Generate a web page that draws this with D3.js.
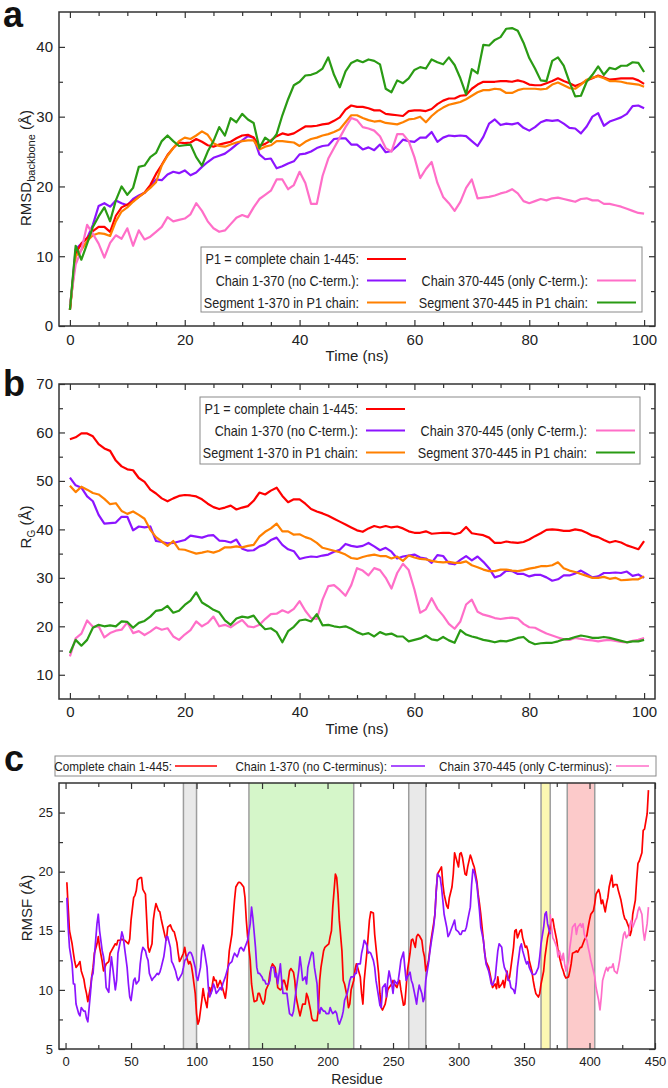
<!DOCTYPE html>
<html>
<head>
<meta charset="utf-8">
<script src="https://cdn.jsdelivr.net/npm/d3@7"></script>
<style>
  html, body { margin: 0; padding: 0; background: #fff; }
  svg { display: block; font-family: "Liberation Sans", Arial, sans-serif; }
</style>
</head>
<body>
<div id="chart"></div>
<script>
const width = 668;
const height = 1088;

// shared time grid (ns) for panels a and b
const timeNs = d3.range(0, 101);

// panel a: RMSD backbone (Å)
const rmsdP1 = [2.3,10.4,11.8,12.6,13.6,14.2,14.2,13.5,15.8,17.0,
  17.4,17.9,18.5,19.1,20.2,21.8,23.1,24.5,25.5,26.3,
  26.2,26.3,26.8,26.4,25.9,25.7,26.0,26.2,26.4,26.9,
  27.3,27.4,27.0,25.8,26.1,26.6,27.2,27.6,27.4,27.6,
  28.1,28.6,28.6,28.7,28.9,29.0,29.4,29.9,31.0,31.6,
  31.4,31.4,31.2,30.9,30.9,30.4,30.3,30.2,30.1,30.8,
  30.9,30.9,30.8,31.1,31.8,32.3,32.6,32.6,33.0,33.1,
  34.0,34.6,35.0,35.0,35.0,35.1,35.1,35.0,35.2,35.0,
  34.6,34.5,34.5,34.8,35.1,35.5,35.1,34.8,34.4,34.7,
  35.2,35.5,35.9,35.6,35.3,35.4,35.5,35.5,35.5,35.2,
  34.7];
const rmsdNoC = [2.3,11.0,11.8,12.6,14.5,17.2,17.6,17.1,18.0,17.6,
  17.3,18.2,18.7,19.1,20.0,21.0,20.9,21.7,22.1,21.9,
  22.3,21.6,22.0,22.8,23.5,24.1,24.4,24.7,25.3,26.0,
  26.6,27.2,27.0,24.6,23.9,24.0,22.6,22.9,23.3,23.6,
  24.6,24.7,25.0,25.5,25.8,25.9,26.8,26.9,26.9,26.0,
  26.0,25.3,25.6,25.2,26.0,24.9,25.1,25.8,26.7,26.5,
  26.4,27.0,27.0,27.8,26.4,27.0,27.3,27.2,27.3,27.2,
  26.5,25.8,27.1,29.0,29.6,28.8,29.0,28.9,29.1,28.4,
  28.0,28.5,29.2,29.5,29.4,29.5,29.0,28.4,28.3,27.6,
  28.6,30.0,30.5,28.7,29.3,29.6,29.9,30.4,31.5,31.6,
  31.2];
const rmsdOnlyC = [3.0,8.8,10.9,14.5,13.2,11.8,9.8,11.9,13.0,12.5,
  14.0,11.5,13.7,12.4,12.8,13.5,14.2,15.6,15.0,15.2,
  15.4,16.0,17.6,16.5,15.0,14.0,13.5,13.7,14.6,15.5,
  15.9,15.6,17.0,18.2,18.8,19.4,21.0,21.0,19.6,20.2,
  22.1,20.5,17.5,17.5,21.5,24.0,25.5,27.0,28.5,29.8,
  29.5,28.5,28.3,28.0,27.2,25.5,25.0,27.5,27.5,26.5,
  24.2,21.2,22.5,23.5,20.5,18.5,17.6,16.5,17.8,19.8,
  21.0,18.3,18.4,18.5,18.7,19.0,19.2,19.6,19.0,17.9,
  17.6,17.9,18.2,18.0,18.3,18.4,18.2,18.0,17.8,18.2,
  18.3,18.0,18.0,17.5,17.5,17.3,17.1,16.8,16.5,16.2,
  16.1];
const rmsdSeg1 = [2.3,10.0,10.9,12.2,13.0,13.3,13.2,12.9,15.0,16.4,
  17.0,17.8,18.5,19.1,19.8,20.6,23.0,24.4,25.5,26.5,
  27.0,26.8,27.3,27.9,27.4,26.2,25.8,25.7,26.0,26.3,
  26.5,26.6,26.6,25.3,25.7,25.9,26.5,26.5,26.4,26.3,
  25.8,26.4,26.8,27.0,27.3,27.5,27.8,28.2,29.2,30.2,
  30.2,29.8,29.5,29.3,29.4,29.1,29.0,28.9,29.2,29.6,
  29.7,30.0,29.2,30.1,30.8,31.3,31.7,31.9,32.1,32.5,
  33.0,33.5,33.8,33.8,34.0,33.9,33.4,33.4,33.8,34.0,
  34.0,34.0,33.9,34.0,34.6,34.9,34.5,34.1,34.0,34.6,
  35.3,35.6,35.8,35.5,35.1,35.1,35.0,34.8,34.7,34.6,
  34.3];
const rmsdSeg2 = [2.3,11.5,9.5,11.8,14.2,15.7,17.0,15.0,18.0,20.0,
  18.8,19.8,22.8,23.0,24.2,24.8,26.5,27.3,26.5,25.8,
  25.9,26.0,24.2,23.0,25.0,26.5,28.5,27.3,29.8,29.2,
  30.4,29.6,29.1,25.5,27.0,26.4,27.5,30.2,32.5,34.5,
  35.0,35.9,36.0,36.3,36.9,38.5,36.0,34.2,36.5,37.7,
  38.1,37.8,38.2,38.0,37.5,34.0,33.5,35.2,34.8,35.5,
  36.7,37.1,36.9,38.2,37.8,37.5,38.5,37.4,35.5,33.2,
  36.8,36.2,40.3,40.2,41.0,41.4,42.6,42.7,42.3,40.6,
  38.4,36.9,35.2,35.1,38.0,38.5,37.3,35.0,32.9,33.0,
  35.0,36.0,37.2,36.0,37.0,36.8,37.3,37.3,37.8,37.7,
  36.4];

// panel b: radius of gyration (Å)
const rgP1 = [58.6,59.0,59.8,59.8,59.2,57.6,56.7,56.2,54.2,53.0,
  52.4,52.2,50.6,49.8,48.2,47.4,46.4,45.8,46.4,46.9,
  47.1,47.0,46.8,46.2,45.3,44.6,44.2,44.5,44.9,44.1,
  44.5,44.8,45.9,47.6,47.2,48.0,48.6,46.9,45.6,46.2,
  46.2,45.3,44.2,43.7,43.3,42.8,42.2,41.6,41.0,40.4,
  39.8,39.5,40.2,40.7,40.4,40.7,40.4,40.6,40.2,39.6,
  39.3,39.3,39.6,39.1,39.2,39.3,39.3,39.0,39.3,40.5,
  39.2,39.0,38.8,38.3,37.2,37.2,37.5,37.3,37.2,37.4,
  37.9,38.6,39.2,39.9,40.0,39.9,39.7,39.7,40.0,39.8,
  39.3,38.7,38.4,37.8,37.3,37.6,37.3,36.7,36.3,35.9,
  37.6];
const rgNoC = [50.7,49.1,48.6,46.8,45.8,43.0,41.2,41.3,41.4,42.6,
  42.6,39.8,40.6,40.4,40.6,37.6,37.4,37.1,37.2,37.5,
  37.8,38.7,38.5,38.3,38.7,38.8,37.7,37.6,37.3,37.9,
  36.0,35.6,35.7,36.5,36.9,37.8,38.3,36.8,35.9,35.5,
  33.9,34.2,34.4,34.3,34.6,34.8,35.4,35.8,37.0,36.6,
  36.4,36.6,37.2,36.5,35.7,36.2,35.4,34.0,34.4,34.6,
  34.8,34.2,34.0,33.1,34.7,34.5,33.0,32.8,33.7,34.5,
  33.6,34.4,33.3,32.0,30.1,30.5,31.5,31.4,30.8,30.8,
  30.3,30.6,30.6,30.1,29.4,29.7,30.5,30.5,30.9,31.5,
  30.8,30.1,30.3,31.0,31.0,31.1,31.0,31.3,30.4,30.7,
  30.0];
const rgOnlyC = [13.8,17.5,18.5,21.2,19.9,20.0,17.7,18.6,19.1,19.3,
  20.8,18.6,19.0,18.2,18.9,19.8,19.3,19.6,17.9,17.2,
  18.3,19.2,21.0,20.0,20.7,22.0,20.0,20.3,19.8,20.6,
  21.3,20.0,19.8,20.3,21.5,22.5,22.6,23.3,22.8,23.6,
  25.2,23.2,21.7,21.5,25.5,28.3,28.5,27.5,26.3,28.5,
  32.0,31.5,30.5,32.0,31.6,30.0,27.8,31.0,32.9,31.6,
  27.6,22.8,23.5,25.8,23.6,22.2,20.5,19.5,21.0,24.5,
  25.5,23.0,22.4,22.1,21.7,21.5,21.7,21.8,21.6,20.5,
  19.8,19.7,19.1,18.5,18.1,17.7,17.3,17.2,17.6,17.4,
  17.2,17.1,16.9,17.1,17.2,17.0,16.8,16.7,17.0,17.2,
  17.6];
const rgSeg1 = [49.0,47.7,48.8,48.2,47.5,47.2,46.3,45.2,45.4,43.8,
  43.2,43.7,43.0,42.2,39.9,38.4,37.5,36.6,37.6,35.9,
  35.8,35.4,35.0,35.2,35.5,35.2,35.6,36.3,36.3,36.5,
  36.3,36.6,36.8,38.5,39.5,40.2,41.2,39.6,39.6,38.9,
  39.0,38.4,38.0,37.2,36.2,35.9,35.6,35.3,34.8,34.1,
  33.9,34.3,34.6,34.8,34.5,34.5,34.0,34.4,33.5,34.6,
  34.2,33.9,33.8,33.5,33.3,33.2,33.3,33.1,33.1,33.4,
  32.6,32.2,31.7,31.4,31.4,31.7,31.7,31.5,31.4,31.6,
  31.9,32.1,32.4,32.4,32.6,33.2,32.0,31.5,31.2,30.8,
  30.4,30.0,30.0,30.2,29.8,30.0,29.5,29.6,29.7,29.7,
  30.3];
const rgSeg2 = [14.5,17.2,16.0,17.2,19.7,20.3,20.0,20.2,20.0,21.0,
  20.9,19.7,20.7,21.1,22.0,23.2,23.4,24.2,22.8,23.2,
  24.4,25.3,27.0,24.9,24.2,23.4,22.9,21.2,20.3,21.6,
  22.0,21.8,22.2,20.6,19.4,19.6,18.8,16.7,19.0,19.9,
  21.2,21.4,21.0,22.5,20.2,20.3,20.0,19.8,20.0,19.5,
  18.8,18.3,18.6,17.9,18.8,18.3,18.5,17.9,17.9,16.9,
  17.2,17.5,18.1,17.3,17.1,17.8,17.1,16.6,19.2,18.3,
  17.9,17.6,17.2,17.0,16.7,17.0,16.9,17.2,17.6,17.8,
  16.8,16.3,16.5,16.6,16.6,16.9,17.3,17.4,17.8,18.1,
  17.9,17.6,17.6,17.8,17.6,17.3,17.0,16.7,16.9,16.9,
  17.2];

// panel c: RMSF (Å) per residue, [residue, value]
const rmsfComplete = [[1,19.1],[2,17],[3,15],[5,13.9],[6,13.1],[7,12.4],[8,11.9],[10,12.2],[11,12.4],[12,11.6],[14,10.9],[15,10.2],[16,9.7],[17,9],[19,10.2],[20,11.1],[21,11.9],[22,13.1],[24,13.9],[25,14.5],[26,13.6],[28,12.4],[29,11.6],[30,11.9],[31,12.2],[33,12.4],[34,13.1],[35,13.3],[36,13.5],[38,13.9],[39,13.8],[40,14.2],[42,14.2],[43,14.3],[44,14.2],[45,14.2],[48,13.9],[49,14.3],[50,15.9],[52,17.8],[53,18],[54,18.4],[55,19.3],[57,19.5],[58,19.5],[59,18.5],[61,18.1],[62,15.9],[63,13.6],[64,13.2],[66,13.9],[67,15.9],[68,16.7],[69,17.3],[71,16.7],[72,16.6],[73,16],[75,15],[76,14.5],[77,14.2],[78,15.3],[80,15.5],[81,15.2],[82,15],[83,14.9],[85,14],[86,13.1],[87,12.4],[88,12.6],[90,13.1],[91,13.6],[92,12.9],[94,12.2],[95,12.4],[96,12.1],[97,11.4],[99,9.7],[100,8],[101,7.1],[102,7.4],[104,9.1],[105,10.1],[106,9.4],[108,8.5],[109,9.7],[110,10.2],[111,9.7],[113,11.1],[114,10.8],[115,10.8],[116,10.2],[118,10.8],[119,10.5],[120,10.1],[122,9.3],[123,10.2],[124,11.9],[125,13.3],[127,14.7],[128,16.2],[129,17.6],[130,18.7],[132,19.1],[133,19.1],[134,19],[136,18.7],[137,17.8],[138,15.9],[139,14.5],[141,12.5],[142,10.5],[143,9.7],[144,9],[146,9.1],[147,9.7],[148,9.7],[150,9],[151,8.8],[152,9.1],[153,10],[155,10.5],[156,11.4],[157,11.9],[158,12.2],[160,11.9],[161,11.1],[162,10.2],[164,10],[165,10.1],[166,10.8],[167,10.8],[169,10],[170,10.8],[171,11.6],[172,11.8],[174,11.5],[175,10.8],[176,9.4],[178,8.3],[179,7.8],[180,8.3],[181,8.8],[183,8.8],[184,9.7],[185,9.4],[187,8.3],[188,7.6],[189,7.4],[190,7.4],[192,7.4],[193,8.3],[194,10.8],[195,11.9],[197,13.3],[198,13.6],[199,13.7],[201,13.9],[202,14.5],[203,15],[204,17],[206,19.8],[207,19.5],[208,18.1],[209,15.9],[211,13.3],[212,10.8],[213,10.5],[215,9.4],[216,8.5],[217,8.8],[218,10],[220,10.8],[221,11.7],[222,12.2],[223,11.9],[225,11.1],[226,9.7],[227,8.8],[228,10.8],[230,13.1],[231,14.5],[232,15.9],[233,16.6],[235,16.5],[236,14.7],[237,13.6],[239,11.4],[240,9.7],[241,8.5],[242,8.3],[244,8.8],[245,9.4],[246,10],[247,10.2],[249,10.5],[250,10.8],[251,10.5],[253,10.2],[254,10.6],[255,10.8],[256,10],[258,8.7],[259,8.8],[260,10.2],[261,11.6],[263,13.1],[264,14.2],[265,14.3],[267,13.6],[268,14.5],[269,14.7],[270,14.6],[272,14.2],[273,13.3],[274,12.8],[275,11.6],[277,12.4],[278,13.3],[279,14.2],[281,15.6],[282,16.4],[283,18.4],[284,19.8],[286,20.2],[287,20.4],[288,19],[289,18.1],[291,17.1],[292,16.9],[293,17.8],[295,18.7],[296,19.8],[297,21.6],[298,21.2],[300,20.4],[301,21.5],[302,21.6],[303,21.2],[305,19.8],[306,19.7],[307,20.4],[309,21.4],[310,21.1],[311,20.7],[312,20.4],[314,19.2],[315,18.1],[316,17.3],[317,16.4],[319,14.2],[320,13.1],[321,12.4],[323,11.9],[324,11.4],[325,10.8],[326,10.2],[328,10.5],[329,10.1],[330,11.1],[331,10.2],[333,10.5],[334,10.8],[335,10.2],[337,11.6],[338,10.8],[339,11.1],[340,11.9],[342,13.6],[343,15],[344,15.1],[345,14.4],[347,15],[348,15.1],[349,14.4],[351,13.6],[352,13.7],[353,13.3],[354,12.5],[356,11.6],[357,10.8],[358,10.2],[359,9.7],[361,9.4],[362,9.7],[363,10.5],[365,11.6],[366,12.8],[367,13.6],[368,14.4],[370,15.3],[371,15.9],[372,16],[373,15.3],[375,14.2],[376,13.3],[377,12.8],[379,11.9],[380,11.6],[381,11.2],[382,11],[384,11.1],[385,11.6],[386,12.2],[387,13.1],[389,13.2],[390,13.3],[391,13.2],[393,13.6],[394,13.6],[395,13.9],[396,14.2],[398,14.6],[399,15.3],[400,15.9],[401,16.4],[403,16.7],[404,17.3],[405,18.1],[407,18.5],[408,18.1],[409,17.3],[410,17.6],[412,16.6],[413,17.3],[414,17.8],[415,18.7],[417,19.7],[418,18.7],[419,18.9],[421,18.9],[422,18.4],[423,18],[424,17.6],[426,16.4],[427,16],[428,15.9],[430,15.3],[431,14.6],[432,15],[433,16.4],[435,17.6],[436,19.3],[437,20.7],[438,20.9],[440,21.6],[441,23.5],[442,23.6],[444,24.9],[445,26.9]];
const rmsfNoC = [[1,17.8],[2,15.3],[3,13.6],[5,12.2],[6,10.5],[7,10.5],[8,8.8],[10,8],[11,7.8],[12,8.5],[14,8.2],[15,8.2],[16,7.6],[17,7.3],[19,9.7],[20,11.1],[21,11.4],[22,12.8],[24,15.6],[25,16.4],[26,15],[28,13.3],[29,12.8],[30,11.9],[31,10.2],[33,9.8],[34,11.6],[35,12.8],[36,11.9],[38,10],[39,10.8],[40,13.1],[42,14.2],[43,14.9],[44,14.5],[45,13.6],[47,11.9],[48,10.5],[49,9.4],[50,9.1],[52,10.8],[53,11],[54,10.5],[56,10.8],[57,12.2],[58,13.1],[59,13.6],[61,13.3],[62,12.8],[63,12.5],[64,11.4],[66,10.8],[67,11],[68,11.1],[70,11.4],[71,11.3],[72,11.5],[73,11.9],[75,12.8],[76,13.6],[77,14.5],[78,14.5],[80,13.6],[81,12.4],[82,12.2],[84,11.6],[85,11.1],[86,10.8],[87,11],[89,11.4],[90,11.9],[91,12.5],[92,12.6],[94,13.1],[95,13.2],[96,13.1],[97,12.8],[99,11.9],[100,11.1],[101,10.8],[103,11.9],[104,13.3],[105,13.8],[106,13.3],[108,11.9],[109,10.2],[110,9.4],[112,10],[113,10.5],[114,10.2],[115,9.7],[117,10],[118,10.2],[119,10],[120,10.5],[122,11.1],[123,11.5],[124,11.9],[125,12.2],[127,12.4],[128,12.8],[129,13.1],[131,12.8],[132,13.1],[133,13.5],[134,13.6],[136,13.3],[137,13.6],[138,13.9],[139,14.2],[141,15.6],[142,17],[143,16.1],[145,13.6],[146,11.9],[147,11.4],[148,11.4],[150,11.1],[151,10.8],[152,10.8],[153,10.5],[155,10.5],[156,10.8],[157,11.9],[159,11.9],[160,11.1],[161,11.4],[162,10.5],[164,12.2],[165,10.8],[166,9.7],[167,9.7],[169,9.7],[170,8.8],[171,8],[173,7.8],[174,8.2],[175,9.1],[176,10],[178,11.6],[179,12.8],[180,11.9],[181,10.8],[183,11.1],[184,10.5],[185,11.9],[187,12.8],[188,13.2],[189,13.1],[190,11.9],[192,10.5],[193,8.5],[194,8],[195,8.5],[197,8.2],[198,8.2],[199,8],[201,8],[202,8.5],[203,8.2],[204,8],[206,8.2],[207,8],[208,7.4],[209,7.1],[211,7.7],[212,8.2],[213,9.1],[215,9.7],[216,10.2],[217,10.8],[218,11.1],[220,11.1],[221,11.4],[222,11.4],[223,12.2],[225,12.2],[226,13.1],[227,13.6],[228,14.2],[230,13.8],[231,13.1],[232,13.2],[233,13.1],[235,12.5],[236,11.9],[237,10.8],[239,9.4],[240,8.7],[241,8.5],[242,10.2],[244,10.5],[245,9.4],[246,10.8],[247,11.6],[249,10.5],[250,9.7],[251,10.8],[253,10.5],[254,10.8],[255,11.6],[256,12.5],[258,13.2],[259,11.9],[260,10.8],[261,11.1],[263,11.5],[264,10.8],[265,10.5],[267,9.4],[268,8.8],[269,9.7],[270,10.4],[272,9.7],[273,9],[274,9.3],[275,10.8],[277,12.2],[278,13.1],[279,13.9],[281,15.3],[282,16.4],[283,18.4],[284,19.8],[286,19.5],[287,18.7],[288,17.6],[289,16.4],[291,15.3],[292,14.5],[293,14.7],[295,15.3],[296,15.6],[297,15.9],[298,15.1],[300,14.9],[301,14.7],[302,14.7],[303,15],[305,15],[306,15.3],[307,15.9],[309,17],[310,18.9],[311,20.2],[312,20],[314,18.9],[315,17.8],[316,16.7],[317,15.3],[319,14.2],[320,13.1],[321,12.2],[323,11.6],[324,11.1],[325,10.5],[326,10.4],[328,11],[329,12.2],[330,13.3],[331,13.9],[333,13.6],[334,12.5],[335,11.9],[337,11.4],[338,10.8],[339,10.8],[340,10.2],[342,10],[343,9.7],[344,10.5],[345,11.9],[347,13.6],[348,13.9],[349,13.3],[351,12.5],[352,12.2],[353,12.4],[354,11.9],[356,11.4],[357,11.3],[358,11.3],[359,11.4],[361,11.9],[362,12.8],[363,13.9],[365,15.3],[366,16.4],[367,16.6],[368,15.6],[370,14.7]];
const rmsfOnlyC = [[370,16.4],[371,15.3],[372,14.4],[373,14.2],[375,13.6],[376,12.8],[377,13.3],[379,12.5],[380,13.1],[381,12.2],[382,11.6],[384,12.5],[385,13.6],[386,14.4],[387,15.3],[389,15.6],[390,14.7],[391,15.3],[393,15.6],[394,15.3],[395,15.6],[396,14.7],[398,14.2],[399,13.6],[400,13.1],[401,12.5],[403,11.6],[404,11.1],[405,10.2],[407,9.1],[408,8.3],[409,9.4],[410,10.8],[412,11.6],[413,11.9],[414,11.6],[415,11.9],[417,11.9],[418,12.2],[419,11.6],[421,11.4],[422,11.9],[423,12.5],[424,13.3],[426,14.7],[427,14.9],[428,14.4],[430,14.7],[431,15.6],[432,15.9],[433,15.3],[435,15.9],[436,16.1],[437,16.7],[438,17],[440,16.4],[441,15],[442,14.2],[444,15.6],[445,17]];

// highlighted residue ranges in panel c
const bandStart = [90, 140, 262, 363, 383];
const bandEnd = [100, 220, 275, 370, 404];

// legend labels
const labelsAB = ["P1 = complete chain 1-445:", "Chain 1-370 (no C-term.):", "Chain 370-445 (only C-term.):",
  "Segment 1-370 in P1 chain:", "Segment 370-445 in P1 chain:"];
const labelsC = ["Complete chain 1-445:", "Chain 1-370 (no C-terminus):", "Chain 370-445 (only C-terminus):"];

const red = "#ff0000", purple = "#8c14ff", pink = "#ff6ec8", orange = "#ff8000", green = "#2a9b14";
const bandFill = ["#e9e9e9", "#d5f6c9", "#e9e9e9", "#fcf8b2", "#fccaca"];

const svg = d3.select("#chart").append("svg")
    .attr("width", width)
    .attr("height", height)
    .attr("viewBox", `0,0,${width},${height}`);

const left = 59, right = 655;

function styleAxis(g, fs) {
    g.select(".domain").remove();
    g.selectAll("line").attr("stroke", "#333").attr("stroke-width", 1.2);
    g.selectAll("text").attr("font-size", fs).attr("fill", "#222")
        .attr("font-family", "'Liberation Sans', Arial, sans-serif");
}

function axes(g, x, y, xMajor, xMinor, yMajor, yMinor, fs, xPad) {
    const [yb, yt] = y.range();
    g.append("g").attr("transform", `translate(0,${yb})`)
        .call(d3.axisBottom(x).tickValues(xMajor).tickSize(-6).tickPadding(xPad).tickFormat(d3.format("d")))
        .call(s => styleAxis(s, fs));
    g.append("g").attr("transform", `translate(0,${yb})`)
        .call(d3.axisBottom(x).tickValues(xMinor).tickSize(-4).tickFormat(""))
        .call(s => styleAxis(s, fs));
    g.append("g").attr("transform", `translate(0,${yt})`)
        .call(d3.axisTop(x).tickValues(xMajor).tickSize(-6).tickFormat(""))
        .call(s => styleAxis(s, fs));
    g.append("g").attr("transform", `translate(0,${yt})`)
        .call(d3.axisTop(x).tickValues(xMinor).tickSize(-4).tickFormat(""))
        .call(s => styleAxis(s, fs));
    g.append("g").attr("transform", `translate(${left},0)`)
        .call(d3.axisLeft(y).tickValues(yMajor).tickSize(-6).tickPadding(6).tickFormat(d3.format("d")))
        .call(s => styleAxis(s, fs));
    g.append("g").attr("transform", `translate(${left},0)`)
        .call(d3.axisLeft(y).tickValues(yMinor).tickSize(-4).tickFormat(""))
        .call(s => styleAxis(s, fs));
    g.append("g").attr("transform", `translate(${right},0)`)
        .call(d3.axisRight(y).tickValues(yMajor).tickSize(-6).tickFormat(""))
        .call(s => styleAxis(s, fs));
    g.append("g").attr("transform", `translate(${right},0)`)
        .call(d3.axisRight(y).tickValues(yMinor).tickSize(-4).tickFormat(""))
        .call(s => styleAxis(s, fs));
}

function frame(g, y) {
    const [yb, yt] = y.range();
    g.append("rect")
        .attr("x", left).attr("y", yt)
        .attr("width", right - left).attr("height", yb - yt)
        .attr("fill", "none").attr("stroke", "#333").attr("stroke-width", 1.5);
}

function legendAB(g, bx, by, bw, bh, colors) {
    g.append("rect").attr("x", bx).attr("y", by).attr("width", bw).attr("height", bh)
        .attr("fill", "#fff").attr("stroke", "#8a8a8a").attr("stroke-width", 1);
    // col, row for each entry
    const pos = [[0, 0], [0, 1], [1, 1], [0, 2], [1, 2]];
    const rowY = [12, 33.5, 55.5];
    const textEnd = [158, 387];
    const lineX = [[166, 205], [396, 435]];
    labelsAB.forEach((lab, i) => {
        const [c, r] = pos[i];
        g.append("text")
            .attr("transform", `translate(${bx + textEnd[c]},${by + rowY[r] + 5}) scale(0.9,1)`)
            .attr("text-anchor", "end").attr("font-size", 14).attr("fill", "#222")
            .text(lab);
        g.append("line")
            .attr("x1", bx + lineX[c][0]).attr("x2", bx + lineX[c][1])
            .attr("y1", by + rowY[r]).attr("y2", by + rowY[r])
            .attr("stroke", colors[i]).attr("stroke-width", 2);
    });
}

const colorsAB = [red, purple, pink, orange, green];

function timePanel(cfg) {
    const g = svg.append("g");
    const x = d3.scaleLinear().domain([-1.9, 101.9]).range([left, right]);
    const y = d3.scaleLinear().domain(cfg.yDomain).range(cfg.yRange);
    axes(g, x, y, [0, 20, 40, 60, 80, 100], d3.range(0, 101, 5).filter(v => v % 20),
        cfg.yMajor, cfg.yMinor, 15, cfg.xPad);

    const line = d3.line().x((d, i) => x(timeNs[i])).y(d => y(d));
    cfg.series.forEach(s => {
        g.append("path").datum(s.values)
            .attr("fill", "none").attr("stroke", s.color)
            .attr("stroke-width", 2.2).attr("stroke-linejoin", "round")
            .attr("d", line);
    });
    frame(g, y);
    legendAB(g, cfg.legend[0], cfg.legend[1], cfg.legend[2], cfg.legend[3], colorsAB);

    g.append("text").attr("x", (left + right) / 2).attr("y", cfg.titleY)
        .attr("text-anchor", "middle").attr("font-size", 15).attr("fill", "#222")
        .text("Time (ns)");
    return g;
}

// panel a
const ga = timePanel({
    yDomain: [0, 45], yRange: [326, 12],
    yMajor: [0, 10, 20, 30, 40], yMinor: [5, 15, 25, 35],
    xPad: 8, titleY: 361,
    series: [
        { values: rmsdNoC, color: purple },
        { values: rmsdP1, color: red },
        { values: rmsdSeg1, color: orange },
        { values: rmsdOnlyC, color: pink },
        { values: rmsdSeg2, color: green }
    ],
    legend: [201, 247, 441, 65]
});
ga.append("text").attr("transform", "translate(31,168) rotate(-90)")
    .attr("text-anchor", "middle").attr("font-size", 15).attr("fill", "#222")
    .call(t => {
        t.append("tspan").text("RMSD");
        t.append("tspan").attr("dy", 4).attr("font-size", 11).text("backbone");
        t.append("tspan").attr("dy", -4).text(" (Å)");
    });

// panel b
const gb = timePanel({
    yDomain: [5, 70], yRange: [699, 384],
    yMajor: [10, 20, 30, 40, 50, 60, 70], yMinor: [15, 25, 35, 45, 55, 65],
    xPad: 7, titleY: 734,
    series: [
        { values: rgP1, color: red },
        { values: rgNoC, color: purple },
        { values: rgSeg1, color: orange },
        { values: rgOnlyC, color: pink },
        { values: rgSeg2, color: green }
    ],
    legend: [200, 397, 440, 67]
});
gb.append("text").attr("transform", "translate(31,527) rotate(-90)")
    .attr("text-anchor", "middle").attr("font-size", 15).attr("fill", "#222")
    .call(t => {
        t.append("tspan").text("R");
        t.append("tspan").attr("dy", 4).attr("font-size", 10).text("G");
        t.append("tspan").attr("dy", -4).text(" (Å)");
    });

// panel c
{
    const g = svg.append("g");
    const x = d3.scaleLinear().domain([-5, 450]).range([left, right]);
    const y = d3.scaleLinear().domain([5, 27.5]).range([1049, 783]);

    bandStart.forEach((s, i) => {
        g.append("rect")
            .attr("x", x(s)).attr("y", 783)
            .attr("width", x(bandEnd[i]) - x(s)).attr("height", 1049 - 783)
            .attr("fill", bandFill[i]);
        [s, bandEnd[i]].forEach(v => {
            g.append("line").attr("x1", x(v)).attr("x2", x(v))
                .attr("y1", 783).attr("y2", 1049)
                .attr("stroke", "#9d9d9d").attr("stroke-width", 1.5);
        });
    });

    axes(g, x, y, d3.range(0, 451, 50), d3.range(25, 450, 50),
        [5, 10, 15, 20, 25], [7.5, 12.5, 17.5, 22.5], 13, 8);

    const line = d3.line().x(d => x(d[0])).y(d => y(d[1]));
    [[rmsfComplete, red], [rmsfNoC, purple], [rmsfOnlyC, pink]].forEach(([data, col]) => {
        g.append("path").datum(data)
            .attr("fill", "none").attr("stroke", col)
            .attr("stroke-width", 1.7).attr("stroke-linejoin", "round")
            .attr("d", line);
    });
    frame(g, y);

    g.append("text").attr("x", (left + right) / 2).attr("y", 1084)
        .attr("text-anchor", "middle").attr("font-size", 14).attr("fill", "#222")
        .text("Residue");
    g.append("text").attr("transform", "translate(32,908) rotate(-90)")
        .attr("text-anchor", "middle").attr("font-size", 15).attr("fill", "#222")
        .text("RMSF (Å)");

    // legend above the plot
    g.append("rect").attr("x", 55).attr("y", 756).attr("width", 601).attr("height", 20)
        .attr("fill", "#fff").attr("stroke", "#8a8a8a").attr("stroke-width", 1);
    const textEnd = [172, 387, 612];
    const lineX = [[175, 217], [391, 425], [616, 649]];
    const cols = [red, purple, pink];
    labelsC.forEach((lab, i) => {
        g.append("text")
            .attr("transform", `translate(${textEnd[i]},770.5) scale(0.9,1)`)
            .attr("text-anchor", "end").attr("font-size", 13).attr("fill", "#222")
            .text(lab);
        g.append("line").attr("x1", lineX[i][0]).attr("x2", lineX[i][1])
            .attr("y1", 766).attr("y2", 766)
            .attr("stroke", cols[i]).attr("stroke-width", 1.6);
    });
}

// panel letters
[["a", 3, 27], ["b", 3, 396], ["c", 4, 771]].forEach(([t, lx, ly]) => {
    svg.append("text").attr("x", lx).attr("y", ly)
        .attr("font-size", 36).attr("font-weight", "bold").attr("fill", "#111")
        .text(t);
});
</script>
</body>
</html>
